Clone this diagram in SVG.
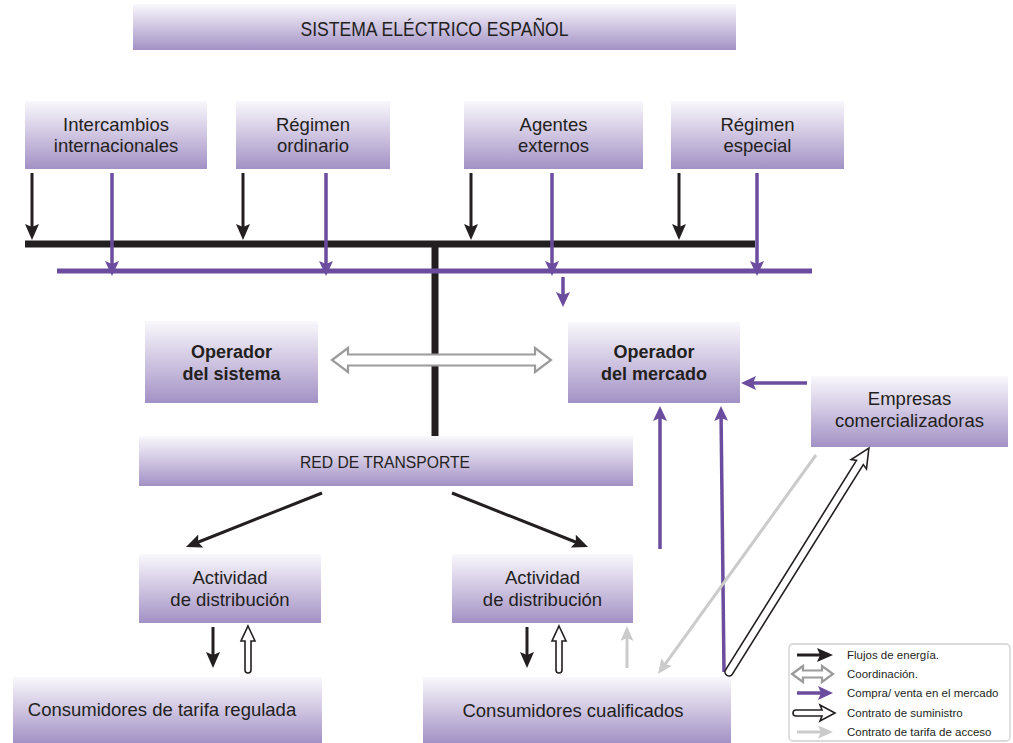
<svg xmlns="http://www.w3.org/2000/svg" width="1013" height="743" viewBox="0 0 1013 743">
<style>
.box{fill:url(#g)}
.t{font-family:"Liberation Sans",Arial,sans-serif;font-size:18.5px;fill:#231f20;text-anchor:middle}
.b{font-weight:bold;font-size:18px}
.lt{font-family:"Liberation Sans",Arial,sans-serif;font-size:11.5px;fill:#231f20}
.k{stroke:#231f20;stroke-width:3;fill:none}
.p{stroke:#6b4c9f;stroke-width:3.5;fill:none}
.gy{stroke:#cbcbcb;stroke-width:3;fill:none}
.coord{fill:#fff;stroke:#9b9b9b;stroke-width:2.2}
.sup{fill:#fff;stroke:#231f20;stroke-width:1.6}
</style>
<defs>
<linearGradient id="g" x1="0" y1="0" x2="0" y2="1">
<stop offset="0" stop-color="#f9f8fc"/>
<stop offset="0.5" stop-color="#cfc5e1"/>
<stop offset="1" stop-color="#a291c5"/>
</linearGradient>
<marker id="mk" markerUnits="userSpaceOnUse" viewBox="0 0 16 14" markerWidth="16" markerHeight="14" refX="12" refY="7" orient="auto">
<path d="M0,0 L16,7 L0,14 L3,7 Z" fill="#231f20"/>
</marker>
<marker id="mp" markerUnits="userSpaceOnUse" viewBox="0 0 15 14" markerWidth="15" markerHeight="14" refX="11" refY="7" orient="auto">
<path d="M0,0 L15,7 L0,14 L3,7 Z" fill="#6b4c9f"/>
</marker>
<marker id="mg" markerUnits="userSpaceOnUse" viewBox="0 0 15 13" markerWidth="15" markerHeight="13" refX="11" refY="6.5" orient="auto">
<path d="M0,0 L15,6.5 L0,13 L3,6.5 Z" fill="#cbcbcb"/>
</marker>
</defs>
<rect width="1013" height="743" fill="#fff"/>

<g id="title"><rect class="box" x="133" y="4" width="603" height="46"/><text class="t" x="434.5" y="36" style="font-size:20px" textLength="268" lengthAdjust="spacingAndGlyphs">SISTEMA ELÉCTRICO ESPAÑOL</text></g>

<g id="n-intercambios"><rect class="box" x="25" y="101" width="182" height="68"/><text class="t" x="116" y="131">Intercambios</text><text class="t" x="116" y="152">internacionales</text></g>
<g id="n-ordinario"><rect class="box" x="236" y="101" width="154" height="68"/><text class="t" x="313" y="131">Régimen</text><text class="t" x="313" y="152">ordinario</text></g>
<g id="n-agentes"><rect class="box" x="464" y="101" width="179" height="68"/><text class="t" x="553.5" y="131">Agentes</text><text class="t" x="553.5" y="152">externos</text></g>
<g id="n-especial"><rect class="box" x="671" y="101" width="173" height="68"/><text class="t" x="757.5" y="131">Régimen</text><text class="t" x="757.5" y="152">especial</text></g>

<g id="n-opsistema"><rect class="box" x="145" y="321" width="173" height="82"/><text class="t b" x="231.5" y="358">Operador</text><text class="t b" x="231.5" y="380">del sistema</text></g>
<g id="n-opmercado"><rect class="box" x="568" y="322" width="172" height="81"/><text class="t b" x="654" y="358">Operador</text><text class="t b" x="654" y="380">del mercado</text></g>
<g id="n-empresas"><rect class="box" x="811" y="376" width="197" height="71"/><text class="t" x="909.5" y="405">Empresas</text><text class="t" x="909.5" y="427">comercializadoras</text></g>
<g id="n-red"><rect class="box" x="139" y="436" width="494" height="50"/><text class="t" x="385" y="468" style="font-size:17px" textLength="170" lengthAdjust="spacingAndGlyphs">RED DE TRANSPORTE</text></g>
<g id="n-dist1"><rect class="box" x="139" y="554" width="182" height="69"/><text class="t" x="230" y="584">Actividad</text><text class="t" x="230" y="606">de distribución</text></g>
<g id="n-dist2"><rect class="box" x="452" y="554" width="181" height="69"/><text class="t" x="542.5" y="584">Actividad</text><text class="t" x="542.5" y="606">de distribución</text></g>
<g id="n-tarifa"><rect class="box" x="13" y="677" width="309" height="66"/><text class="t" x="162" y="716">Consumidores de tarifa regulada</text></g>
<g id="n-cualificados"><rect class="box" x="423" y="677" width="308" height="66"/><text class="t" x="573" y="717">Consumidores cualificados</text></g>

<g id="connectors">
<line x1="25" y1="244" x2="755" y2="244" stroke="#231f20" stroke-width="7"/>
<line x1="435" y1="244" x2="435" y2="436" stroke="#231f20" stroke-width="7"/>
<line x1="57" y1="271" x2="812" y2="271" stroke="#6b4c9f" stroke-width="5"/>
<line class="k" x1="32" y1="173" x2="32" y2="236" marker-end="url(#mk)"/>
<line class="k" x1="243" y1="173" x2="243" y2="236" marker-end="url(#mk)"/>
<line class="k" x1="471" y1="173" x2="471" y2="236" marker-end="url(#mk)"/>
<line class="k" x1="679" y1="173" x2="679" y2="236" marker-end="url(#mk)"/>
<line class="p" x1="112" y1="173" x2="112" y2="272" stroke-width="3" marker-end="url(#mp)"/>
<line class="p" x1="326" y1="173" x2="326" y2="272" stroke-width="3" marker-end="url(#mp)"/>
<line class="p" x1="552" y1="173" x2="552" y2="272" stroke-width="3" marker-end="url(#mp)"/>
<line class="p" x1="757" y1="173" x2="757" y2="272" stroke-width="3" marker-end="url(#mp)"/>
<line class="p" x1="563" y1="277" x2="563" y2="303" stroke-width="4" marker-end="url(#mp)"/>
<polygon class="coord" points="332,360 348,348 348,354.5 535,354.5 535,348 551,360 535,372 535,365.5 348,365.5 348,372"/>
<line class="p" x1="807" y1="383" x2="745" y2="383" marker-end="url(#mp)"/>
<line class="p" x1="660" y1="549" x2="660" y2="410" marker-end="url(#mp)"/>
<line class="p" x1="724" y1="672" x2="721" y2="410" marker-end="url(#mp)"/>
<line class="k" x1="322" y1="493" x2="189.7" y2="545.5" marker-end="url(#mk)"/>
<line class="k" x1="452" y1="493" x2="584.3" y2="545.5" marker-end="url(#mk)"/>
<line class="k" x1="213" y1="627" x2="213" y2="664" marker-end="url(#mk)"/>
<line class="k" x1="527" y1="627" x2="527" y2="664" marker-end="url(#mk)"/>
<path class="sup" d="M248,626 L255,641 L251,641 L251,670 A3,3 0 0 1 245,670 L245,641 L241,641 Z"/>
<path class="sup" d="M559,626 L566,641 L562,641 L562,670 A3,3 0 0 1 556,670 L556,641 L552,641 Z"/>
<line class="gy" x1="627" y1="668" x2="627" y2="630" marker-end="url(#mg)"/>
<line class="gy" x1="816" y1="455" x2="660.3" y2="670.8" marker-end="url(#mg)"/>
<path class="sup" transform="translate(729,672) rotate(-58)" d="M0,-4 L247,-4 L245,-9 L264,0 L245,9 L247,4 L0,4 A4,4 0 0 1 0,-4 Z"/>
</g>

<g id="legend">
<rect x="789" y="644" width="221" height="97" rx="4" fill="#fff" stroke="#cfcfcf" stroke-width="1.3"/>
<line class="k" x1="797" y1="655" x2="829" y2="655" stroke-width="3.5" marker-end="url(#mk)"/>
<polygon class="coord" points="792,674 803,666 803,670.5 822,670.5 822,666 833,674 822,682 822,677.5 803,677.5 803,682"/>
<line class="p" x1="797" y1="693" x2="829" y2="693" marker-end="url(#mp)"/>
<path class="sup" d="M796,710 L822,710 L820,705 L835,713 L820,721 L822,716 L796,716 A3,3 0 0 1 796,710 Z"/>
<line class="gy" x1="797" y1="732" x2="829" y2="732" stroke-width="3.5" marker-end="url(#mg)"/>
<text class="lt" x="847" y="659">Flujos de energía.</text>
<text class="lt" x="847" y="678">Coordinación.</text>
<text class="lt" x="847" y="697">Compra/ venta en el mercado</text>
<text class="lt" x="847" y="717">Contrato de suministro</text>
<text class="lt" x="847" y="736">Contrato de tarifa de acceso</text>
</g>
</svg>
